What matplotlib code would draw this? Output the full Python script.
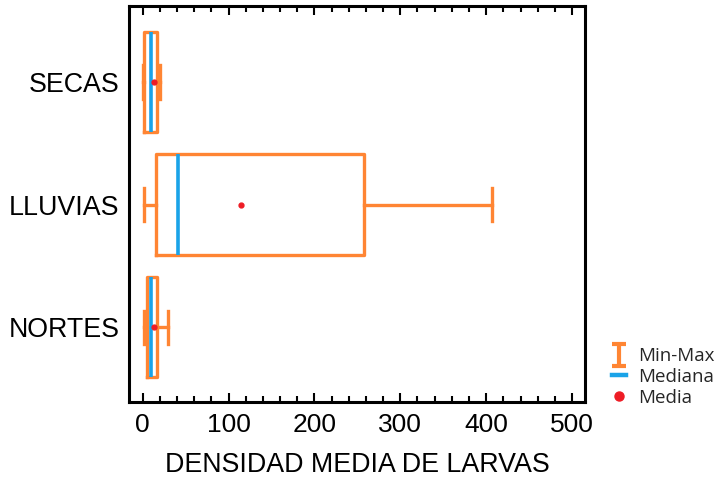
import matplotlib.pyplot as plt
from matplotlib.lines import Line2D
from matplotlib.path import Path
from matplotlib.ticker import MultipleLocator

# resumen por temporada (densidad media de larvas)
temporadas = ['NORTES', 'LLUVIAS', 'SECAS']
minimos = [2, 2, 0]
q1 = [5, 15, 1]
medianas = [10, 41, 10]
q3 = [17, 258, 17]
maximos = [30, 407, 20]
medias = [13, 115, 13]

naranja = '#ff8533'
azul = '#1aa3e8'
rojo = '#ee1c25'

plt.rcParams['font.family'] = 'Liberation Sans'

fig = plt.figure(figsize=(7.23, 4.79), dpi=100)
ax = fig.add_axes([0.1784, 0.1608, 0.6306, 0.8267])

stats = []
for i in range(len(temporadas)):
    stats.append({'label': temporadas[i], 'whislo': minimos[i], 'q1': q1[i],
                  'med': medianas[i], 'q3': q3[i], 'whishi': maximos[i],
                  'mean': medias[i], 'fliers': []})

ax.bxp(stats, positions=[1, 2, 3], orientation='horizontal', widths=0.82,
       capwidths=0.27, showmeans=True, showfliers=False,
       boxprops=dict(color=naranja, linewidth=2.4),
       whiskerprops=dict(color=naranja, linewidth=2.4),
       capprops=dict(color=naranja, linewidth=2.4),
       medianprops=dict(color=azul, linewidth=2.6),
       meanprops=dict(marker='o', markersize=3.5, markerfacecolor=rojo,
                      markeredgecolor=rojo))

ax.set_xlim(-16, 515)
ax.set_ylim(0.39, 3.62)
ax.xaxis.set_major_locator(MultipleLocator(100))
ax.xaxis.set_minor_locator(MultipleLocator(20))
ax.tick_params(axis='x', which='both', direction='in', top=True, width=1.5,
               labelsize=19, pad=8)
ax.tick_params(axis='x', which='major', length=6.5)
ax.tick_params(axis='x', which='minor', length=4)
ax.tick_params(axis='y', length=0, labelsize=19.3, pad=7)
for s in ax.spines.values():
    s.set_linewidth(2.2)

ax.set_xlabel('DENSIDAD MEDIA DE LARVAS', fontsize=19.3, labelpad=11)

# marcador en forma de I para el rango
forma_i = Path([(-0.6, -1), (0.6, -1), (0, -1), (0, 1), (-0.6, 1), (0.6, 1)],
               [Path.MOVETO, Path.LINETO, Path.MOVETO, Path.LINETO,
                Path.MOVETO, Path.LINETO])
handles = [
    Line2D([], [], linestyle='none', marker=forma_i, markersize=16,
           markeredgecolor=naranja, markeredgewidth=3),
    Line2D([], [], color=azul, linewidth=3.2),
    Line2D([], [], linestyle='none', marker='o', markersize=6.5,
           color=rojo),
]
fig.legend(handles, ['Min-Max', 'Mediana', 'Media'], loc='lower left',
           bbox_to_anchor=(0.836, 0.135), frameon=False, handlelength=0.75,
           handletextpad=0.65, labelspacing=0.15, borderaxespad=0,
           labelcolor='#262626', prop={'family': 'Open Sans', 'size': 13.5})

fig.savefig('out.png', dpi=100)
